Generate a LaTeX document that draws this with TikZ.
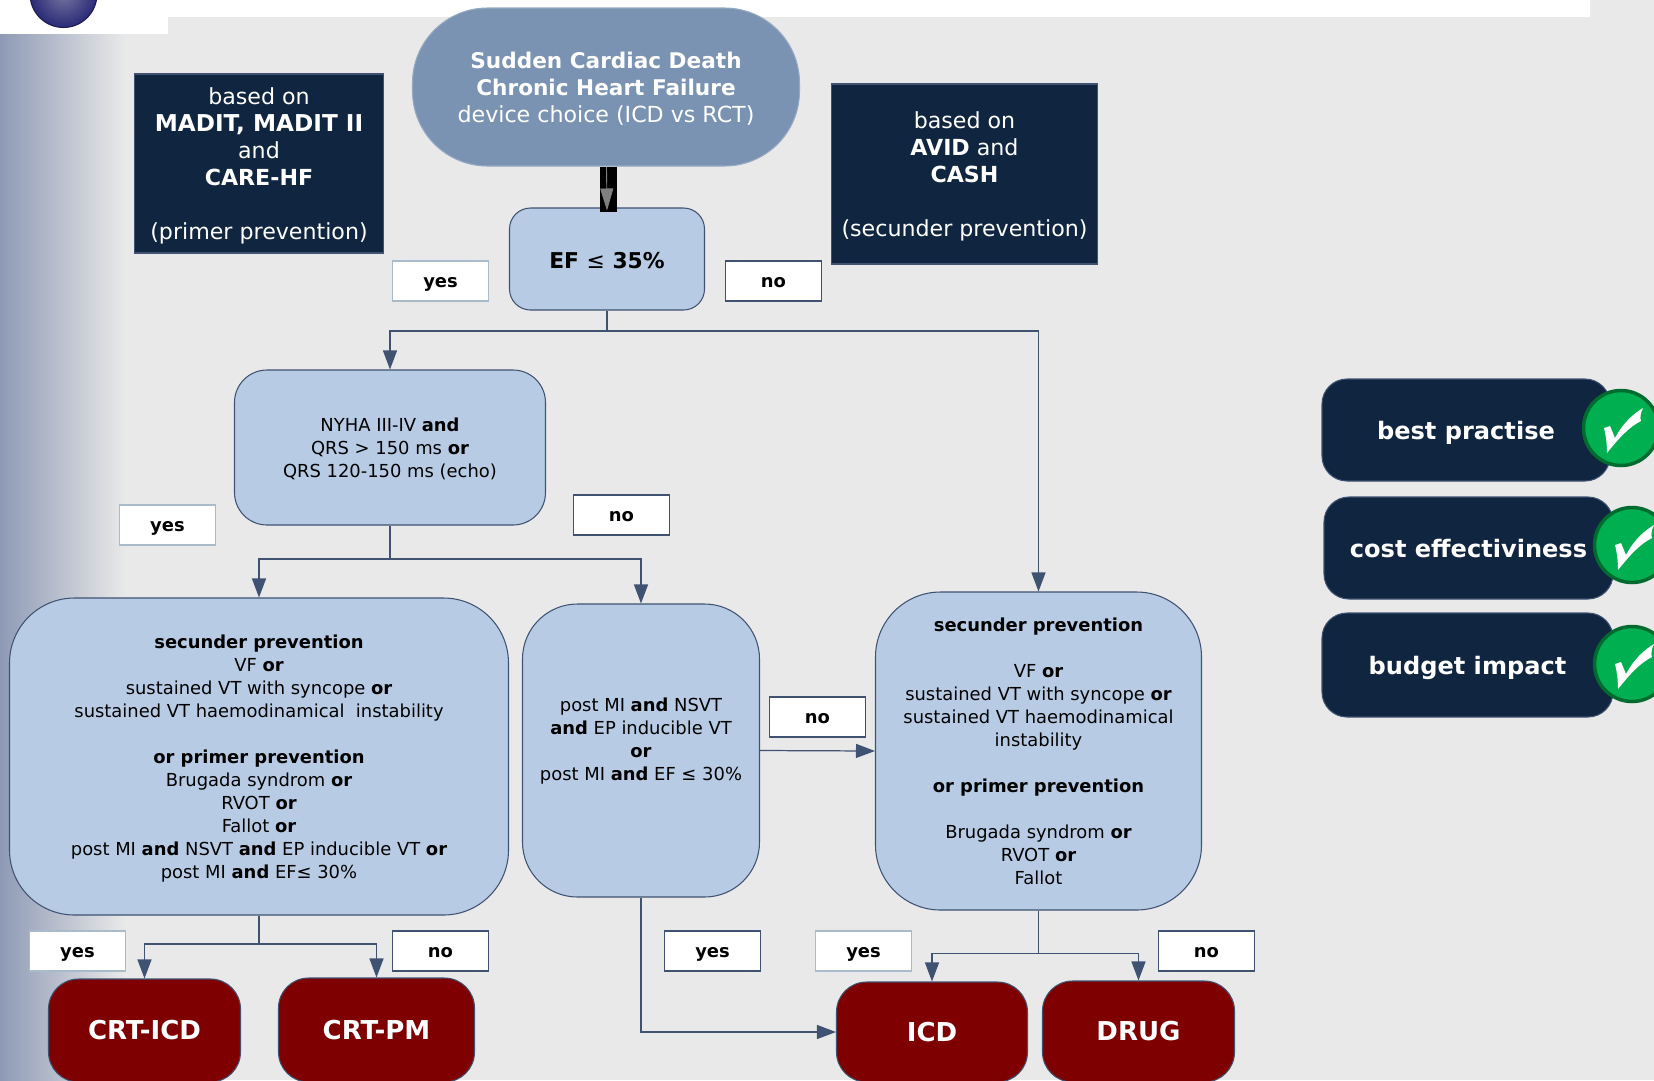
\documentclass[tikz,border=0pt]{standalone}
\usepackage{fontspec}
\setmainfont{DejaVu Sans}
\usetikzlibrary{arrows.meta}
\newcommand{\boldat}[2]{{\fontsize{#1}{15.3}\selectfont\textbf{#2}}}
\definecolor{pagegrey}{HTML}{E9E9E9}
\definecolor{sidegrey}{HTML}{8E9AB5}
\definecolor{headblue}{HTML}{7B93B3}
\definecolor{boxblue}{HTML}{B7CCE4}
\definecolor{navy}{HTML}{10253F}
\definecolor{darkred}{HTML}{7F0000}
\definecolor{linecol}{HTML}{3F5272}
\definecolor{lightline}{HTML}{A9BAC8}
\definecolor{tickgreen}{HTML}{00B050}
\definecolor{tickring}{HTML}{006B2E}
\definecolor{ballin}{HTML}{75759F}
\definecolor{ballout}{HTML}{2A2A78}
\tikzset{
    boxsize/.style 2 args={minimum width=#1*0.02cm, minimum height=#2*0.02cm, inner sep=0pt, align=center},
    head/.style={fill=headblue, draw=headblue!80!white, line width=0.6pt, text=white, rounded corners=1.5cm, text depth=0pt, font=\fontsize{12.6}{15.3}\selectfont},
    study/.style={fill=navy, draw=linecol, line width=0.6pt, text=white, text depth=0pt, font=\fontsize{12.6}{15.3}\selectfont},
    crit/.style={fill=boxblue, draw=linecol, line width=0.6pt, text=black, text depth=0pt, font=\fontsize{10.2}{13.1}\selectfont},
    therapy/.style={fill=darkred, draw=linecol, line width=0.6pt, text=white, rounded corners=0.6cm, font=\fontsize{14.8}{18}\selectfont\bfseries},
    criterion/.style={fill=navy, draw=linecol, line width=0.6pt, text=white, rounded corners=0.5cm, text height=11pt, text depth=0pt, font=\fontsize{13.7}{16}\selectfont\bfseries},
    answer/.style={fill=white, draw=linecol, line width=0.6pt, text=black, font=\fontsize{10.2}{13}\selectfont\bfseries, text height=7pt, text depth=0pt, minimum width=1.92cm, minimum height=0.8cm, inner sep=0pt},
    answerpale/.style={answer, draw=lightline},
    tick/.style={circle, fill=tickgreen, draw=tickring, line width=2pt, minimum size=1.5cm, inner sep=0pt},
    flow/.style={draw=linecol, line width=0.7pt},
    flowto/.style={flow, -{Triangle[length=0.38cm,width=0.28cm]}}
}
\begin{document}
\begin{tikzpicture}[x=0.02cm,y=-0.02cm]
    \useasboundingbox (0,0) rectangle (1654,1080);
    \fill[pagegrey] (0,0) rectangle (1654,1080);
    \shade[left color=sidegrey, right color=pagegrey] (0,34) rectangle (125,1080);
    \fill[white] (0,0) rectangle (168,34);
    \fill[white] (168,0) rectangle (1590,17);
    \shade[inner color=ballin, outer color=ballout] (63.5,-6) circle (33.5);
    \draw[ballout!70!black, line width=0.6pt] (63.5,-6) circle (33.5);

    \node[head, boxsize={387}{158}] (death) at (606,87) {\boldat{12.3}{Sudden Cardiac Death}\\\boldat{12.3}{Chronic Heart Failure}\\device choice (ICD vs RCT)};
    \node[study, boxsize={249}{179}] (primer) at (259,163.5) {based on\\\boldat{13.2}{MADIT, MADIT II}\\and\\\textbf{CARE-HF}\\~\\(primer prevention)};
    \node[study, boxsize={266}{180}] (secunder) at (964.5,174) {based on\\\textbf{AVID} and\\\textbf{CASH}\\~\\(secunder prevention)};
    \node[crit, boxsize={195}{102}, rounded corners=0.42cm, text height=11pt, font=\fontsize{12.4}{14.6}\selectfont\bfseries] (ef) at (607,259) {EF \textmd{≤} 35\%};
    \node[crit, boxsize={311}{155}, rounded corners=0.65cm] (nyha) at (390,447.5) {NYHA III-IV \textbf{and}\\QRS > 150 ms \textbf{or}\\QRS 120-150 ms (echo)};
    \node[crit, boxsize={499}{317}, rounded corners=1.3cm] (leftcrit) at (259,756.5) {\textbf{secunder prevention}\\VF \textbf{or}\\sustained VT with syncope \textbf{or}\\sustained VT haemodinamical\ \ instability\\~\\\textbf{or primer prevention}\\Brugada syndrom \textbf{or}\\RVOT \textbf{or}\\Fallot \textbf{or}\\post MI \textbf{and} NSVT \textbf{and} EP inducible VT \textbf{or}\\post MI \textbf{and} EF\textmd{≤} 30\%};
    \node[crit, boxsize={237}{293}, rounded corners=1.1cm] (midcrit) at (641,750.5) {post MI \textbf{and} NSVT\\\textbf{and} EP inducible VT\\\textbf{or}\\post MI \textbf{and} EF ≤ 30\%\\~};
    \node[crit, boxsize={326}{318}, rounded corners=1.3cm] (rightcrit) at (1038.5,751) {\textbf{secunder prevention}\\~\\VF \textbf{or}\\sustained VT with syncope \textbf{or}\\sustained VT haemodinamical\\instability\\~\\\textbf{or primer prevention}\\~\\Brugada syndrom \textbf{or}\\RVOT \textbf{or}\\Fallot};

    \node[therapy, boxsize={192}{103}] (crticd) at (144.5,1030.5) {CRT-ICD};
    \node[therapy, boxsize={196}{104}] (crtpm) at (376.5,1030) {CRT-PM};
    \node[therapy, boxsize={191}{100}] (icd) at (932,1032) {ICD};
    \node[therapy, boxsize={192}{101}] (drug) at (1138.5,1031.5) {DRUG};

    \node[answerpale] (yesef) at (440.5,281) {yes};
    \node[answer] (noef) at (773.5,281) {no};
    \node[answerpale] (yesnyha) at (167.5,525) {yes};
    \node[answer] (nonyha) at (621.5,515) {no};
    \node[answer] (nomid) at (817.5,717) {no};
    \node[answerpale] (yesleft) at (77.5,951) {yes};
    \node[answer] (noleft) at (440.5,951) {no};
    \node[answer] (yesmid) at (712.5,951) {yes};
    \node[answerpale] (yesright) at (863.5,951) {yes};
    \node[answer] (noright) at (1206.5,951) {no};

    \node[criterion, boxsize={288}{102}] (practise) at (1466,430) {best practise};
    \node[criterion, boxsize={289}{102}] (cost) at (1468.5,548) {cost effectiviness};
    \node[criterion, boxsize={291}{104}] (budget) at (1467.5,665) {budget impact};
    \node[tick] (tickpractise) at (1621,428) {};
    \node[tick] (tickcost) at (1632,545) {};
    \node[tick] (tickbudget) at (1632,664) {};
    \foreach \t in {tickpractise,tickcost,tickbudget} {
        \fill[white, shift=(\t.center)] (-17,0) -- (-11,-2) .. controls (-8,5) and (-7,8) .. (-6,10) .. controls (2,-5) and (12,-14) .. (22,-20) .. controls (19,-14) and (19,-10) .. (20,-7) .. controls (8,-1) and (-2,10) .. (-14,25) .. controls (-14,16) and (-15,8) .. (-17,0) -- cycle;
    }

    \coordinate (efturn) at (607,331);
    \coordinate (nyhaturn) at (390,559);
    \coordinate (leftturn) at (259,944);
    \coordinate (rightturn) at (1038.5,953.5);

    \draw[line width=0.34cm, black] ([xshift=0.05cm]death.south) -- ([xshift=0.03cm,yshift=-0.1cm]ef.north);
    \draw[draw=gray, line width=0.5pt, -{Triangle[length=0.44cm,width=0.26cm]}] ([xshift=0.01cm]death.south) -- ([yshift=-0.06cm]ef.north);
    \draw[flow] (ef.south) -- (efturn);
    \draw[flowto] (efturn) -| (nyha.north);
    \draw[flowto] (efturn) -| (rightcrit.north);
    \draw[flow] (nyha.south) -- (nyhaturn);
    \draw[flowto] (nyhaturn) -| (leftcrit.north);
    \draw[flowto] (nyhaturn) -| (midcrit.north);
    \draw[flowto] (midcrit.east) -- (rightcrit.west);
    \draw[flow] (leftcrit.south) -- (leftturn);
    \draw[flowto] (leftturn) -| (crticd.north);
    \draw[flowto] (leftturn) -| (crtpm.north);
    \draw[flow] (rightcrit.south) -- (rightturn);
    \draw[flowto] (rightturn) -| (icd.north);
    \draw[flowto] (rightturn) -| (drug.north);
    \draw[flowto] (midcrit.south) |- (icd.west);
\end{tikzpicture}
\end{document}
